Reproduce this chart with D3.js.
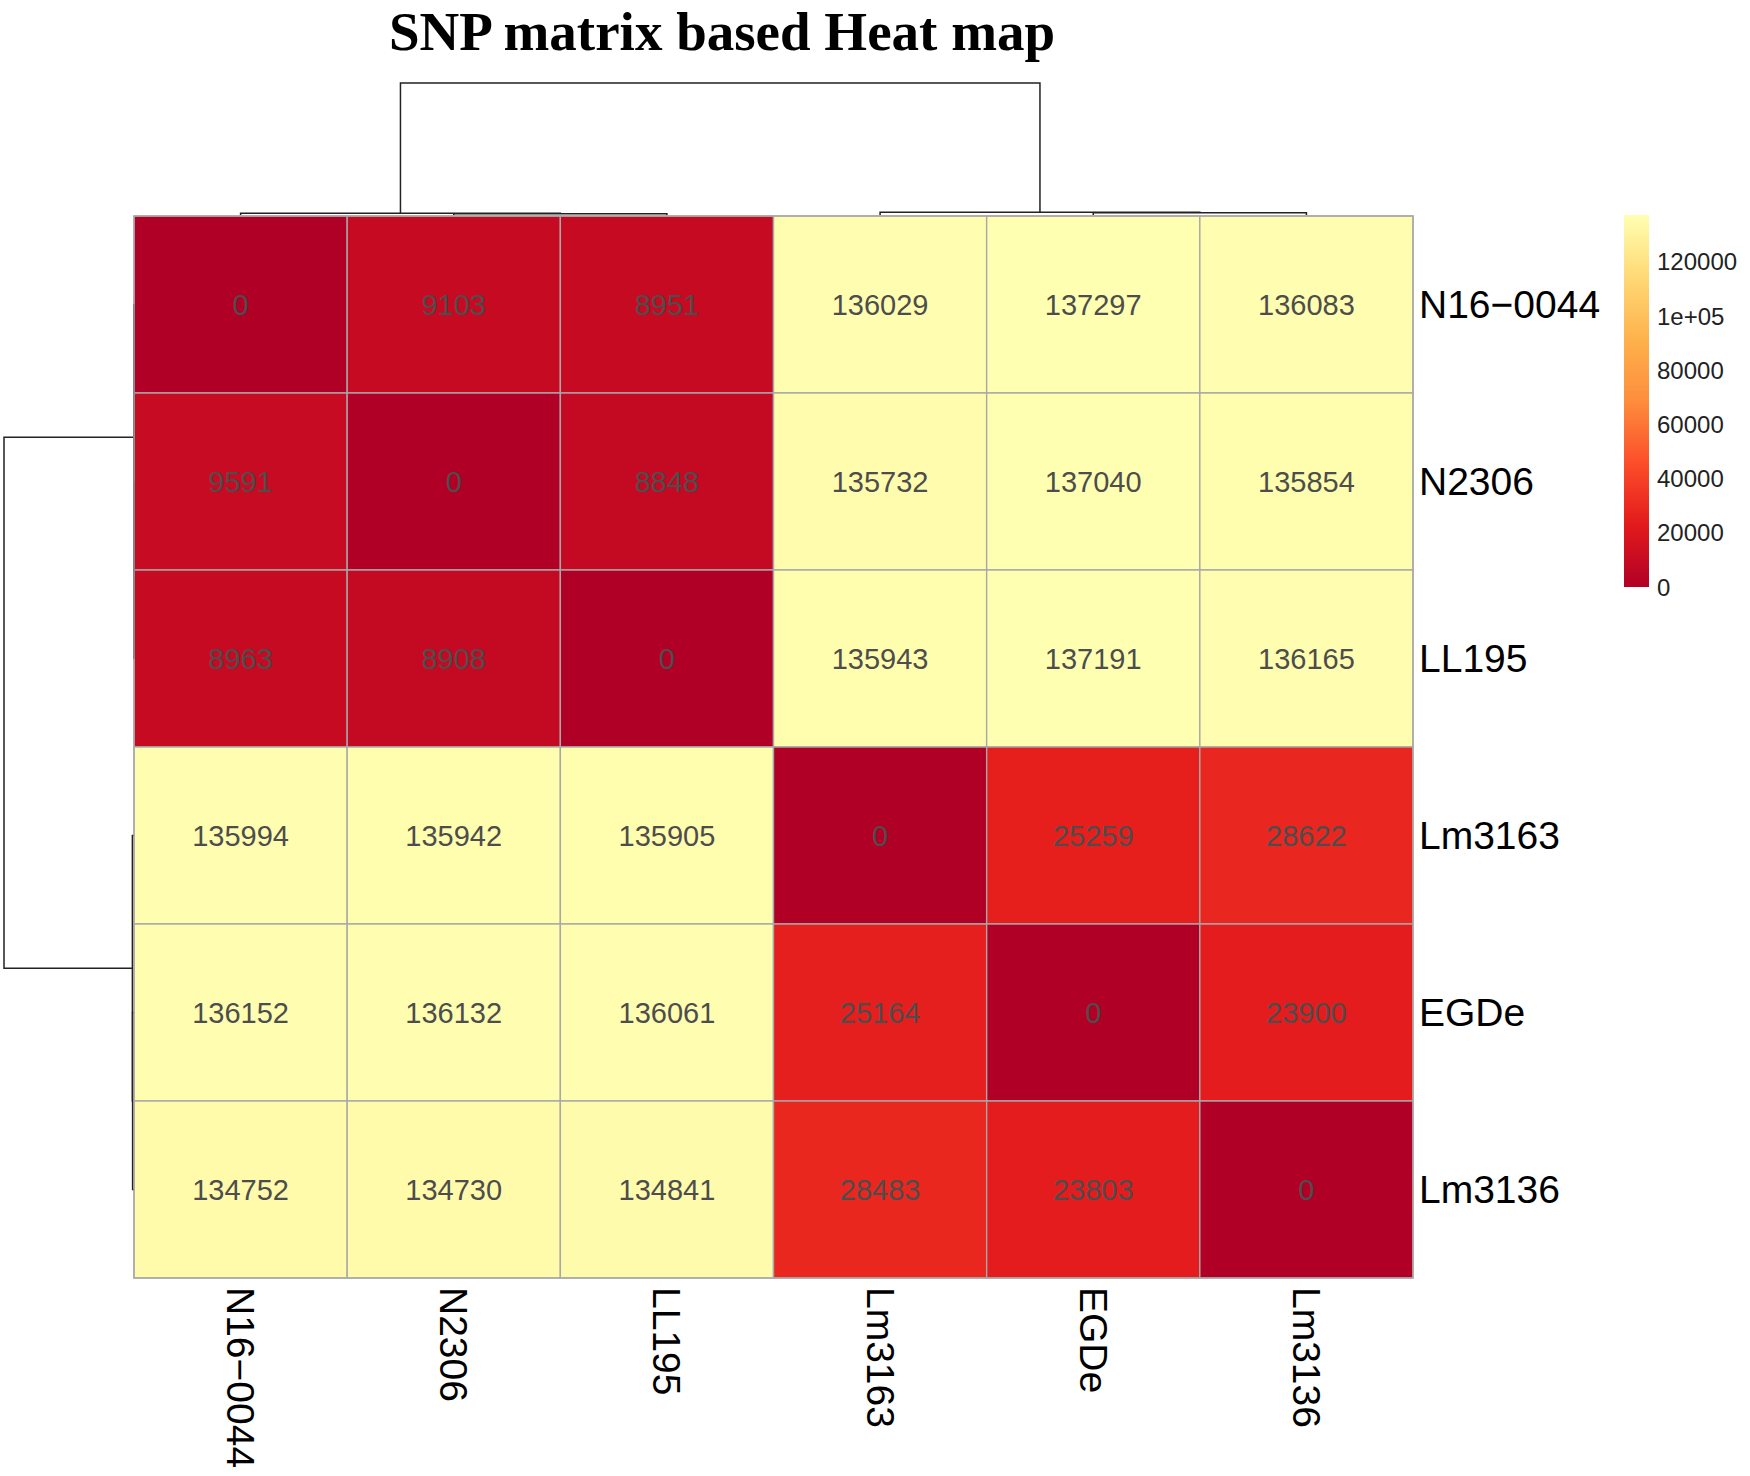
<!DOCTYPE html>
<html>
<head>
<meta charset="utf-8">
<script src="https://cdn.jsdelivr.net/npm/d3@7"></script>
<style>
  html, body { margin: 0; padding: 0; background: #ffffff; }
  svg { display: block; }
</style>
</head>
<body>
<svg id="chart" width="1750" height="1476"></svg>
<script>
// ---------------- DATA ----------------
const chartTitle = "SNP matrix based Heat map";
const rowNames = ["N16\u22120044", "N2306", "LL195", "Lm3163", "EGDe", "Lm3136"];
const colNames = ["N16\u22120044", "N2306", "LL195", "Lm3163", "EGDe", "Lm3136"];

const rowN160044 = [0, 9103, 8951, 136029, 137297, 136083];
const rowN2306   = [9591, 0, 8848, 135732, 137040, 135854];
const rowLL195   = [8963, 8908, 0, 135943, 137191, 136165];
const rowLm3163  = [135994, 135942, 135905, 0, 25259, 28622];
const rowEGDe    = [136152, 136132, 136061, 25164, 0, 23900];
const rowLm3136  = [134752, 134730, 134841, 28483, 23803, 0];
const matrixRows = [rowN160044, rowN2306, rowLL195, rowLm3163, rowEGDe, rowLm3136];

// Legend ticks
const legendTickValues = [0, 20000, 40000, 60000, 80000, 100000, 120000];
const legendTickLabels = ["0", "20000", "40000", "60000", "80000", "1e+05", "120000"];

// Colour palette (rev YlOrRd, 7 classes)
const paletteColors = ["#B10026", "#E31A1C", "#FC4E2A", "#FD8D3C", "#FEB24C", "#FED976", "#FFFFB2"];

// Dendrogram merge heights (leaf indices refer to the orders above)
const colTree = { h: 305500, children: [
  { h: 4000, children: [ { leaf: 0 }, { h: 3000, children: [ { leaf: 1 }, { leaf: 2 } ] } ] },
  { h: 6500, children: [ { leaf: 3 }, { h: 5000, children: [ { leaf: 4 }, { leaf: 5 } ] } ] }
]};
const rowTree = { h: 305500, children: [
  { h: 500, children: [ { leaf: 0 }, { h: 300, children: [ { leaf: 1 }, { leaf: 2 } ] } ] },
  { h: 3800, children: [ { leaf: 3 }, { h: 3300, children: [ { leaf: 4 }, { leaf: 5 } ] } ] }
]};

// ---------------- LAYOUT ----------------
const svg = d3.select("#chart");
const hm = { left: 134, right: 1413, top: 216, bottom: 1278 };

const x = d3.scaleBand().domain(colNames).range([hm.left, hm.right]);
const y = d3.scaleBand().domain(rowNames).range([hm.top, hm.bottom]);

const vmax = d3.max(matrixRows.flat());
const color = d3.scaleLinear()
  .domain(paletteColors.map((c, i) => i * vmax / (paletteColors.length - 1)))
  .range(paletteColors)
  .interpolate(d3.interpolateRgb);

// ---------------- TITLE ----------------
svg.append("text")
  .attr("x", 722).attr("y", 50)
  .attr("text-anchor", "middle")
  .style("font-family", "'Liberation Serif', 'Times New Roman', serif")
  .style("font-weight", "bold")
  .style("font-size", "55px")
  .attr("fill", "#000")
  .text(chartTitle);

// ---------------- CELLS ----------------
const cells = [];
matrixRows.forEach((row, i) => row.forEach((v, j) => cells.push({ r: rowNames[i], c: colNames[j], v })));

const gCells = svg.append("g");
gCells.selectAll("rect").data(cells).join("rect")
  .attr("x", d => x(d.c))
  .attr("y", d => y(d.r))
  .attr("width", x.bandwidth())
  .attr("height", y.bandwidth())
  .attr("fill", d => color(d.v))
  .attr("stroke", "#a8a8a8")
  .attr("stroke-width", 1.4);

gCells.selectAll("text").data(cells).join("text")
  .attr("x", d => x(d.c) + x.bandwidth() / 2)
  .attr("y", d => y(d.r) + y.bandwidth() / 2)
  .attr("text-anchor", "middle")
  .attr("dominant-baseline", "central")
  .style("font-family", "'Liberation Sans', Arial, sans-serif")
  .style("font-size", "29px")
  .attr("fill", "#4d4d4d")
  .text(d => d.v);

// ---------------- ROW / COL LABELS ----------------
svg.append("g").selectAll("text").data(rowNames).join("text")
  .attr("x", hm.right + 6)
  .attr("y", d => y(d) + y.bandwidth() / 2)
  .attr("dominant-baseline", "central")
  .style("font-family", "'Liberation Sans', Arial, sans-serif")
  .style("font-size", "39px")
  .attr("fill", "#000")
  .text(d => d);

svg.append("g").selectAll("text").data(colNames).join("text")
  .attr("transform", d => `translate(${x(d) + x.bandwidth() / 2},${hm.bottom + 9}) rotate(90)`)
  .attr("dominant-baseline", "central")
  .style("font-family", "'Liberation Sans', Arial, sans-serif")
  .style("font-size", "39px")
  .attr("fill", "#000")
  .text(d => d);

// ---------------- DENDROGRAMS ----------------
function layoutTree(tree, leafPos) {
  const root = d3.hierarchy(tree);
  root.eachAfter(n => {
    if (n.data.leaf !== undefined) { n.pos = leafPos(n.data.leaf); n.hh = 0; }
    else { n.pos = d3.mean(n.children, c => c.pos); n.hh = n.data.h; }
  });
  return root;
}

// column dendrogram (top)
const colRoot = layoutTree(colTree, i => x(colNames[i]) + x.bandwidth() / 2);
const colH = d3.scaleLinear().domain([0, colTree.h]).range([215, 83]);
const gColD = svg.append("g").attr("fill", "none").attr("stroke", "#222").attr("stroke-width", 1.5);
colRoot.descendants().filter(n => n.children).forEach(n => {
  const [a, b] = n.children;
  const path = d3.path();
  path.moveTo(a.pos, colH(a.hh));
  path.lineTo(a.pos, colH(n.hh));
  path.lineTo(b.pos, colH(n.hh));
  path.lineTo(b.pos, colH(b.hh));
  gColD.append("path").attr("d", path.toString());
});

// row dendrogram (left)
const rowRoot = layoutTree(rowTree, i => y(rowNames[i]) + y.bandwidth() / 2);
const rowH = d3.scaleLinear().domain([0, rowTree.h]).range([134, 4]);
const gRowD = svg.append("g").attr("fill", "none").attr("stroke", "#222").attr("stroke-width", 1.5);
rowRoot.descendants().filter(n => n.children).forEach(n => {
  const [a, b] = n.children;
  const path = d3.path();
  path.moveTo(rowH(a.hh), a.pos);
  path.lineTo(rowH(n.hh), a.pos);
  path.lineTo(rowH(n.hh), b.pos);
  path.lineTo(rowH(b.hh), b.pos);
  gRowD.append("path").attr("d", path.toString());
});

// redraw heatmap outline on top of dendrogram leaf ends
svg.append("rect")
  .attr("x", hm.left).attr("y", hm.top)
  .attr("width", hm.right - hm.left).attr("height", hm.bottom - hm.top)
  .attr("fill", "none").attr("stroke", "#a8a8a8").attr("stroke-width", 1.4);

// ---------------- LEGEND ----------------
const legY = d3.scaleLinear().domain([0, vmax]).range([587, 215]);
const defs = svg.append("defs");
const grad = defs.append("linearGradient").attr("id", "legGrad")
  .attr("x1", 0).attr("y1", 1).attr("x2", 0).attr("y2", 0);
color.domain().forEach((dv, i) => {
  grad.append("stop").attr("offset", dv / vmax).attr("stop-color", color.range()[i]);
});
svg.append("rect")
  .attr("x", 1624).attr("y", legY(vmax))
  .attr("width", 25).attr("height", legY(0) - legY(vmax))
  .attr("fill", "url(#legGrad)");

svg.append("g").selectAll("text").data(legendTickValues).join("text")
  .attr("x", 1657)
  .attr("y", d => legY(d))
  .attr("dominant-baseline", "central")
  .style("font-family", "'Liberation Sans', Arial, sans-serif")
  .style("font-size", "24px")
  .attr("fill", "#222")
  .text((d, i) => legendTickLabels[i]);
</script>
</body>
</html>
